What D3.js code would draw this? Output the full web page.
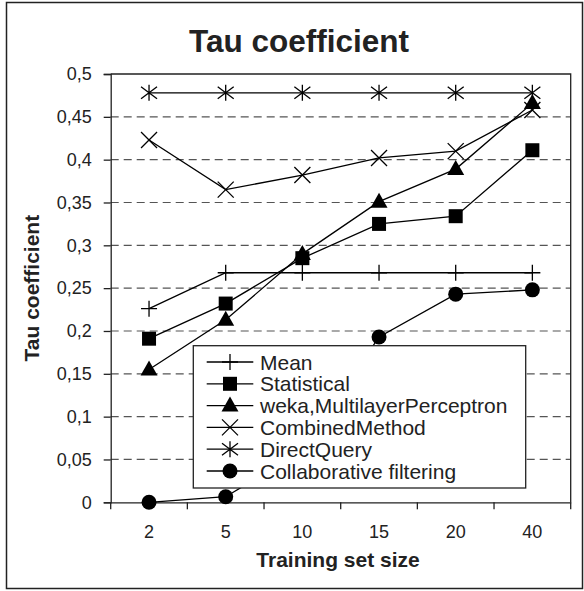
<!DOCTYPE html>
<html lang="en">
<head>
<meta charset="UTF-8">
<title>Tau coefficient</title>
<script src="https://d3js.org/d3.v7.min.js"></script>
<style>
  body { margin: 0; background: #fff; }
  svg text { font-family: "Liberation Sans", Arial, sans-serif; fill: #222; }
</style>
</head>
<body>
<svg id="chart" width="584" height="591"></svg>
<script>
// --- data ---
const categories = ["2", "5", "10", "15", "20", "40"];
const meanVals = [0.226, 0.268, 0.268, 0.268, 0.268, 0.268];
const statisticalVals = [0.191, 0.232, 0.285, 0.325, 0.334, 0.411];
const wekaVals = [0.155, 0.213, 0.290, 0.351, 0.389, 0.466];
const combinedVals = [0.423, 0.365, 0.382, 0.402, 0.410, 0.458];
const directVals = [0.478, 0.478, 0.478, 0.478, 0.478, 0.478];
const collabVals = [0.0, 0.0065, 0.06, 0.193, 0.243, 0.248];
const seriesNames = ["Mean", "Statistical", "weka,MultilayerPerceptron", "CombinedMethod", "DirectQuery", "Collaborative filtering"];
const yTicks = [0, 0.05, 0.1, 0.15, 0.2, 0.25, 0.3, 0.35, 0.4, 0.45, 0.5];

const series = [
  {name: seriesNames[0], values: meanVals, marker: "plus"},
  {name: seriesNames[1], values: statisticalVals, marker: "square"},
  {name: seriesNames[2], values: wekaVals, marker: "triangle"},
  {name: seriesNames[3], values: combinedVals, marker: "x"},
  {name: seriesNames[4], values: directVals, marker: "star"},
  {name: seriesNames[5], values: collabVals, marker: "circle"}
];

// --- layout ---
const plot = {left: 110.7, right: 570.7, top: 74, bottom: 502.3};
const svg = d3.select("#chart");

// outer frame
svg.append("rect")
  .attr("x", 6.5).attr("y", 2.5).attr("width", 576).attr("height", 586)
  .attr("fill", "none").attr("stroke", "#222").attr("stroke-width", 1.5);

const x = d3.scaleBand().domain(categories).range([plot.left, plot.right]).padding(0);
const y = d3.scaleLinear().domain([0, 0.5]).range([plot.bottom, plot.top]);
const cx = c => x(c) + x.bandwidth() / 2;

// gridlines (dashed)
svg.append("g")
  .selectAll("line")
  .data(yTicks.filter(t => t > 0 && t < 0.5))
  .join("line")
    .attr("x1", plot.left).attr("x2", plot.right)
    .attr("y1", d => y(d)).attr("y2", d => y(d))
    .attr("stroke", "#555").attr("stroke-width", 1.2)
    .attr("stroke-dasharray", "8,5");

// plot frame (top and right)
svg.append("path")
  .attr("d", `M${plot.left},${y(0.5)}H${plot.right}V${plot.bottom}`)
  .attr("fill", "none").attr("stroke", "#222").attr("stroke-width", 1.3);

// y axis
const yAxis = svg.append("g")
  .attr("transform", `translate(${plot.left},0)`)
  .call(d3.axisLeft(y).tickValues(yTicks).tickSize(7).tickPadding(12)
    .tickFormat(d => String(d).replace(".", ",")));
yAxis.selectAll("text").style("font-size", "18px").attr("fill", "#222");
yAxis.selectAll("line, path").attr("stroke", "#222").attr("stroke-width", 1.3);

// x axis: labels at category centres, ticks at band edges
const xAxis = svg.append("g")
  .attr("transform", `translate(0,${plot.bottom})`)
  .call(d3.axisBottom(x).tickSize(0).tickPadding(23));
xAxis.selectAll("text").style("font-size", "18px").attr("fill", "#222");
xAxis.select(".domain").attr("stroke", "#222").attr("stroke-width", 1.3);
const edges = categories.map(c => x(c)).concat([x(categories[categories.length - 1]) + x.bandwidth()]);
svg.append("g").selectAll("line")
  .data(edges)
  .join("line")
    .attr("x1", d => d).attr("x2", d => d)
    .attr("y1", plot.bottom).attr("y2", plot.bottom + 7)
    .attr("stroke", "#222").attr("stroke-width", 1.3);

// titles
svg.append("text")
  .attr("x", 299).attr("y", 52)
  .attr("text-anchor", "middle")
  .style("font-size", "31.5px").style("font-weight", "bold")
  .text("Tau coefficient");

svg.append("text")
  .attr("x", 338).attr("y", 567)
  .attr("text-anchor", "middle")
  .style("font-size", "21px").style("font-weight", "bold")
  .text("Training set size");

svg.append("text")
  .attr("transform", `translate(39,${(plot.top + plot.bottom) / 2}) rotate(-90)`)
  .attr("text-anchor", "middle")
  .style("font-size", "21px").style("font-weight", "bold")
  .text("Tau coefficient");

// marker drawing
function drawMarker(g, type, px, py) {
  const s = 8;
  if (type === "square") {
    g.append("rect").attr("x", px - 7).attr("y", py - 7).attr("width", 14).attr("height", 14).attr("fill", "#000");
  } else if (type === "triangle") {
    g.append("path").attr("d", `M${px},${py - 9}L${px + 8.5},${py + 6}L${px - 8.5},${py + 6}Z`).attr("fill", "#000");
  } else if (type === "circle") {
    g.append("circle").attr("cx", px).attr("cy", py).attr("r", 7.5).attr("fill", "#000");
  } else {
    let d = "";
    if (type === "plus") d = `M${px - s},${py}H${px + s}M${px},${py - s}V${py + s}`;
    if (type === "x") d = `M${px - s},${py - s}L${px + s},${py + s}M${px - s},${py + s}L${px + s},${py - s}`;
    if (type === "star") d = `M${px},${py - s}V${py + s}M${px - s},${py - 6}L${px + s},${py + 6}M${px - s},${py + 6}L${px + s},${py - 6}`;
    g.append("path").attr("d", d).attr("fill", "none").attr("stroke", "#000").attr("stroke-width", 1.3);
  }
}

const line = d3.line().x((d, i) => cx(categories[i])).y(d => y(d));

series.forEach(s => {
  const g = svg.append("g");
  g.append("path").datum(s.values).attr("d", line)
    .attr("fill", "none").attr("stroke", "#000").attr("stroke-width", 1.3);
  s.values.forEach((v, i) => drawMarker(g, s.marker, cx(categories[i]), y(v)));
});

// legend
const legend = {x: 193.3, y: 345.7, w: 332.4, h: 142.3, row: 21.8, first: 362};
const lg = svg.append("g");
lg.append("rect")
  .attr("x", legend.x).attr("y", legend.y).attr("width", legend.w).attr("height", legend.h)
  .attr("fill", "#fff").attr("stroke", "#222").attr("stroke-width", 1.3);
series.forEach((s, i) => {
  const ly = legend.first + i * legend.row;
  lg.append("line").attr("x1", 206.7).attr("x2", 253.3).attr("y1", ly).attr("y2", ly)
    .attr("stroke", "#000").attr("stroke-width", 1.3);
  drawMarker(lg, s.marker, 230, ly);
  lg.append("text").attr("x", 260).attr("y", ly + 7.5)
    .style("font-size", "21px").text(s.name);
});
</script>
</body>
</html>
